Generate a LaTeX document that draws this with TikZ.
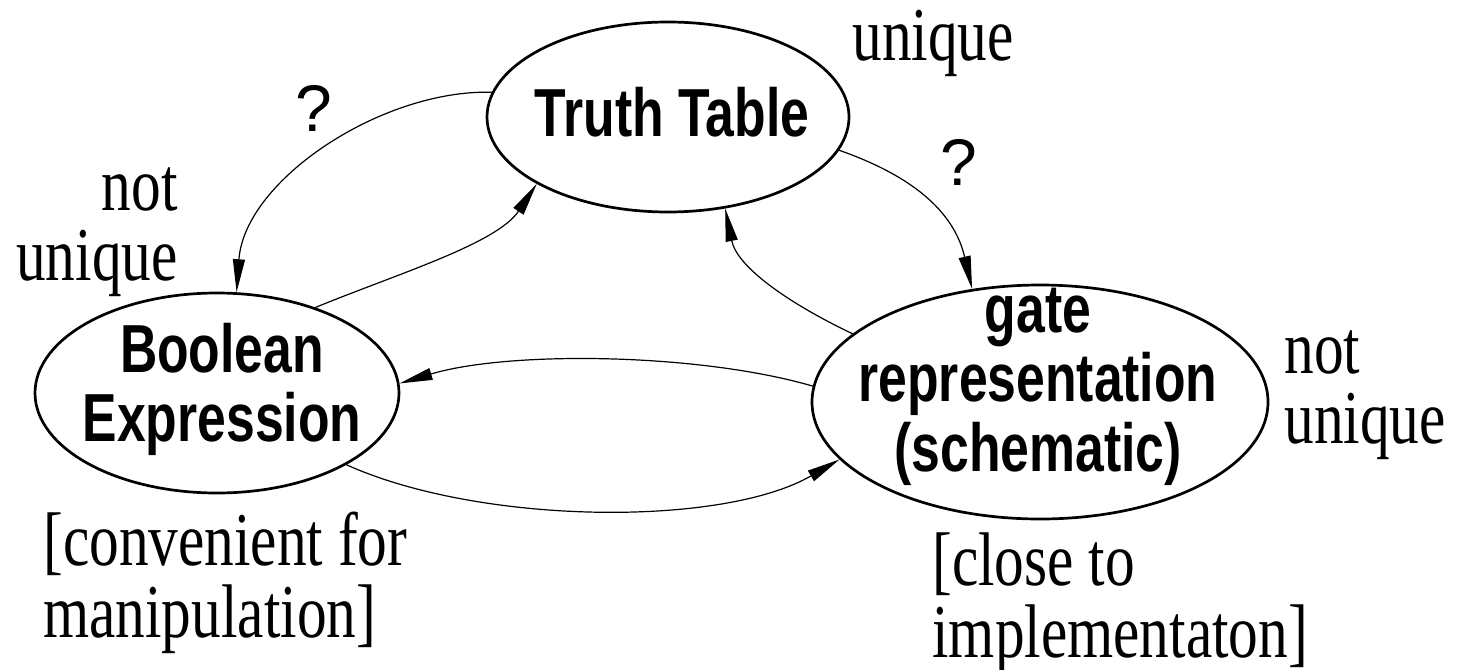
\documentclass[tikz,border=0pt]{standalone}
\usepackage{fontspec}
\setmainfont{Liberation Serif}
\setsansfont{Liberation Sans}
\usepackage{graphicx}
\usetikzlibrary{arrows.meta,shapes.geometric}
\newcommand{\slimtext}[2][c]{\scalebox{.78}[1]{\begin{tabular}[t]{@{}#1@{}}#2\end{tabular}}}
\newcommand{\slimbold}[2][c]{\scalebox{.76}[1]{\begin{tabular}[t]{@{}#1@{}}#2\end{tabular}}}

\begin{document}
\begin{tikzpicture}[x=0.5pt,y=-0.5pt,
                    bubble/.style={draw,ellipse,line width=1.35pt,inner sep=0pt},
                    heading/.style={font={\sffamily\bfseries\fontsize{34}{34.5}\selectfont},inner sep=0pt},
                    remark/.style={font={\fontsize{38}{33}\selectfont},inner sep=0pt},
                    query/.style={font={\sffamily\fontsize{33}{33}\selectfont},inner sep=0pt},
                    link/.style={line width=.6pt,-{Triangle[length=16.5pt,width=6pt]}}]
    \useasboundingbox (0,0) rectangle (1460,669);
    \node[bubble,minimum width=181pt,minimum height=95pt] (truth) at (668,117) {};
    \node[bubble,minimum width=182pt,minimum height=100pt] (bool) at (217,393) {};
    \node[bubble,minimum width=228pt,minimum height=117pt] (gate) at (1040,402) {};
    \node[heading,anchor=base] (truthtext) at (672,136) {\slimbold{Truth Table}};
    \node[heading,anchor=base] (booltext) at (222,372) {\slimbold{Boolean\\Expression}};
    \node[heading,anchor=base] (gatetext) at (1038,332) {\slimbold{gate\\representation\\(schematic)}};
    \draw[link] (truth.172) .. controls +(-110,-3) and +(8,-112) .. (bool.79);
    \draw[link] (bool.41) .. controls +(80,-33) and +(-40,60) .. (truth.207);
    \draw[link] (truth.349) .. controls +(80,28) and +(-17,-73) .. (gate.121);
    \draw[link] (gate.160) .. controls +(-63,-30) and +(12,59) .. (truth.302);
    \draw[link] (gate.176) .. controls +(-113,-33) and +(110,-33) .. (bool.3);
    \draw[link] (bool.331) .. controls +(133,60) and +(-118,68) .. (gate.196);
    \node[query,anchor=base] (leftq) at (314,131) {?};
    \node[query,anchor=base] (rightq) at (959,185) {?};
    \node[remark,anchor=base west] (truthnote) at (852,60) {\slimtext{unique}};
    \node[remark,anchor=base east] (boolnote) at (178,210) {\slimtext[r]{not\\unique}};
    \node[remark,anchor=base west] (gatenote) at (1284,373) {\slimtext[l]{not\\unique}};
    \node[remark,anchor=base west] (booluse) at (43,565) {\slimtext[l]{[convenient for\\manipulation]}};
    \node[remark,anchor=base west] (gateuse) at (932,585) {\slimtext[l]{[close to\\implementaton]}};
\end{tikzpicture}
\end{document}
